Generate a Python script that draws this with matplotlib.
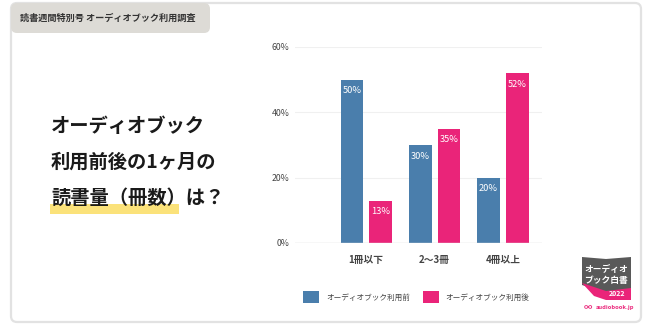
import matplotlib.pyplot as plt
import numpy as np
from matplotlib.patches import FancyBboxPatch, Polygon, Rectangle

plt.rcParams['font.family'] = ['Noto Sans CJK JP', 'DejaVu Sans']

# data
categories = ['1冊以下', '2〜3冊', '4冊以上']
before = [50, 30, 20]
after = [13, 35, 52]
series_names = ['オーディオブック利用前', 'オーディオブック利用後']
yticks = [0, 20, 40, 60]

blue = '#4a7eac'
pink = '#ea2479'

W, H = 649, 330
fig = plt.figure(figsize=(W / 100, H / 100), dpi=100)
fig.patch.set_facecolor('white')

# background layer in pixel coords
bg = fig.add_axes([0, 0, 1, 1], zorder=0)
bg.set_xlim(0, W)
bg.set_ylim(H, 0)
bg.axis('off')

# card
bg.add_patch(FancyBboxPatch((11, 3), 630, 319, boxstyle='round,pad=0,rounding_size=6',
                            fc='white', ec='#e2e2e2', lw=1.6))
# header tab
bg.add_patch(FancyBboxPatch((11, 3), 199, 30, boxstyle='round,pad=0,rounding_size=6',
                            fc='#dddbd6', ec='none'))
bg.text(20, 18, '読書週間特別号 オーディオブック利用調査', fontsize=6.6, fontweight='bold',
        color='#333333', va='center', ha='left')

# title on the left
bg.add_patch(Rectangle((50, 204), 129, 10, fc='#fbe27a', ec='none'))
title_lines = ['オーディオブック', '利用前後の1ヶ月の', '読書量（冊数）は？']
for line, y in zip(title_lines, [127, 162, 198]):
    bg.text(51, y, line, fontsize=13.9, fontweight='bold', color='#1a1a1a',
            va='center', ha='left')

# badge
bg.add_patch(Polygon([(582, 257), (606, 259), (631, 257), (631, 289), (606, 293), (582, 285)],
                     closed=True, fc='#595959', ec='none'))
bg.add_patch(Polygon([(582, 283), (606, 291), (631, 288), (631, 300), (606, 300), (594, 296)],
                     closed=True, fc=pink, ec='none'))
bg.text(606, 269, 'オーディオ', fontsize=6.3, fontweight='bold', color='white', ha='center', va='center')
bg.text(606, 281, 'ブック白書', fontsize=6.3, fontweight='bold', color='white', ha='center', va='center')
bg.text(617, 294, '2022', fontsize=5, fontweight='bold', color='white', ha='center', va='center')
bg.text(584, 308, '∞', fontsize=6, color=pink, ha='left', va='center', fontweight='bold')
bg.text(596, 308, 'audiobook.jp', fontsize=4.2, color=pink, ha='left', va='center', fontweight='bold')

# chart
ax = fig.add_axes([295 / W, 1 - 243 / H, 247 / W, 196 / H], zorder=1)
ax.patch.set_alpha(0)
x = np.arange(len(categories))
bw = 0.33
off = 0.21
b1 = ax.bar(x - off, before, bw, color=blue, label=series_names[0], zorder=2)
b2 = ax.bar(x + off, after, bw, color=pink, label=series_names[1], zorder=2)
for bars, vals in [(b1, before), (b2, after)]:
    for r, v in zip(bars, vals):
        ax.text(r.get_x() + r.get_width() / 2, v - 3.4, f'{v}%', ha='center', va='center',
                fontsize=6.7, color='white')

ax.set_xlim(-1.04, 2.57)
ax.set_ylim(0, 60)
ax.set_yticks(yticks)
ax.set_yticklabels([f'{t}%' for t in yticks], fontsize=6.3, color='#444444')
ax.set_xticks(x)
ax.set_xticklabels(categories, fontsize=7, color='#444444', fontweight='bold')
ax.tick_params(length=0, pad=4)
ax.tick_params(axis='x', pad=9)
ax.yaxis.grid(True, color='#f0f0f0', lw=0.8, zorder=0)
ax.axhline(0, color='#dddddd', lw=1, zorder=3)
for s in ax.spines.values():
    s.set_visible(False)

leg = ax.legend(loc='center left', bbox_to_anchor=(303 / W, 1 - 297 / H),
                bbox_transform=fig.transFigure, ncol=2, frameon=False, fontsize=5.5,
                handlelength=2.1, handleheight=2.0, handletextpad=0.9, columnspacing=1.7,
                borderaxespad=0, borderpad=0)
for t in leg.get_texts():
    t.set_color('#444444')

fig.savefig('out.png', dpi=100)
